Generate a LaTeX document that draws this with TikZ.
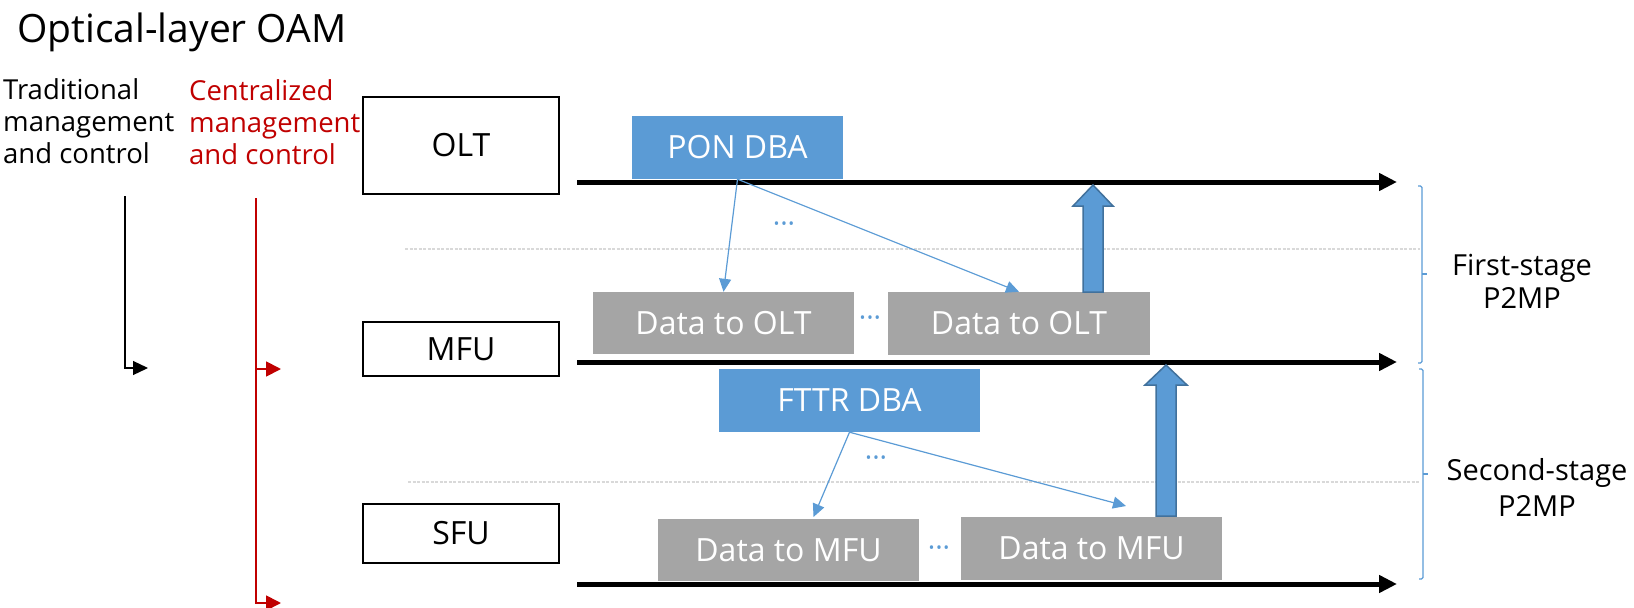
\documentclass[tikz,border=0pt]{standalone}
\usepackage{fontspec}
\setmainfont{Open Sans}
\usetikzlibrary{arrows.meta,calc}
\definecolor{dbablue}{HTML}{5B9BD5}
\definecolor{dbaedge}{HTML}{41719C}
\definecolor{datagray}{HTML}{A5A5A5}
\definecolor{cmred}{HTML}{C00000}
\definecolor{dashgray}{HTML}{D9D9D9}
\begin{document}
\begin{tikzpicture}[x=1pt,y=-1pt,
  titletext/.style={inner sep=0pt,font=\fontsize{39}{44}\selectfont},
  sidetext/.style={inner sep=0pt,align=left,font=\fontsize{27.5}{32}\selectfont},
  stagetext/.style={inner sep=0pt,align=center,font=\fontsize{29}{33}\selectfont},
  unitbox/.style={draw=black,line width=1.7pt,minimum width=196pt,inner sep=0pt,font=\fontsize{32}{38}\selectfont},
  dbabox/.style={fill=dbablue,text=white,inner sep=0pt,minimum height=63pt,font=\fontsize{32}{38}\selectfont},
  databox/.style={fill=datagray,text=white,inner sep=0pt,minimum height=62pt,minimum width=261pt,font=\fontsize{32}{38}\selectfont},
  busline/.style={line width=5pt,-{Triangle[length=18pt,width=17pt]}},
  dbaarrow/.style={draw=dbablue,line width=1.2pt,-{Triangle[length=13pt,width=12pt]}},
  blockarrow/.style={fill=dbablue,draw=dbaedge,line width=1.5pt,line join=miter},
  gridline/.style={draw=dashgray,line width=1.2pt,dash pattern=on 3pt off 1.5pt},
  bracket/.style={draw=dbablue,line width=1.2pt,rounded corners=1.5pt},
  dotsnode/.style={inner sep=0pt,text=dbablue,font=\fontsize{28}{28}\selectfont},
  tradarrow/.style={draw=black,line width=1.2pt,-{Triangle[length=15pt,width=14pt]}},
  cmarrow/.style={draw=cmred,line width=1.8pt,-{Triangle[length=15pt,width=15pt]}}
]
\useasboundingbox (0,0) rectangle (1634,608);

% title and side texts (base anchor = baseline of the last line)
\node[titletext,anchor=base west] (title) at (17,42) {Optical-layer OAM};
\node[sidetext,anchor=base west] (trad) at (3,163) {Traditional\\management\\and control};
\node[sidetext,anchor=base west,text=cmred] (cent) at (189,164.5) {Centralized\\management\\and control};

% management arrows
\coordinate (tradtop) at (125,196);
\coordinate (tradend) at (148,368);
\draw[tradarrow] (tradtop) |- (tradend);
\coordinate (cmtop) at (256,198);
\coordinate (cmmid) at (256,369);
\coordinate (cmmidend) at (281,369);
\coordinate (cmend) at (281,603);
\draw[cmarrow] (cmtop) |- (cmend);
\draw[cmarrow] (cmmid) -- (cmmidend);

% unit boxes
\node[unitbox,minimum height=97pt] (olt) at (461,145.5) {OLT};
\node[unitbox,minimum height=54pt] (mfu) at (461,349) {MFU};
\node[unitbox,minimum height=59pt] (sfu) at (461,533.5) {SFU};

% dashed grid lines
\coordinate (g1s) at (405,249); \coordinate (g1e) at (1420,249);
\coordinate (g2s) at (408,482); \coordinate (g2e) at (1420,482);
\draw[gridline] (g1s) -- (g1e);
\draw[gridline] (g2s) -- (g2e);

% DBA boxes
\node[dbabox,minimum width=211pt] (pon) at (737.5,147.5) {PON DBA};
\node[dbabox,minimum width=261pt] (fttr) at (849.5,400.5) {FTTR DBA};

% data boxes
\node[databox] (dol1) at (723.5,323) {Data to OLT};
\node[databox,minimum width=262pt,minimum height=63pt] (dol2) at (1019,323.5) {Data to OLT};
\node[databox] (dmf1) at (788.5,550) {Data to MFU};
\node[databox,minimum height=63pt] (dmf2) at (1091.5,548.5) {Data to MFU};

% bus lines
\coordinate (b1s) at (577,182); \coordinate (b1e) at (1397,182);
\coordinate (b2s) at (577,362); \coordinate (b2e) at (1397,362);
\coordinate (b3s) at (577,584); \coordinate (b3e) at (1397,584);
\draw[busline] (b1s) -- (b1e);
\draw[busline] (b2s) -- (b2e);
\draw[busline] (b3s) -- (b3e);

% DBA grant arrows
\draw[dbaarrow] (pon.south) -- (dol1.north);
\draw[dbaarrow] (pon.south) -- (dol2.north);
\coordinate (fa1) at (813.5,517);
\coordinate (fa2) at (1126,506);
\draw[dbaarrow] (fttr.south) -- (fa1);
\draw[dbaarrow] (fttr.south) -- (fa2);

% ellipsis marks
\node[dotsnode] (d1) at (784,228) {\textperiodcentered\textperiodcentered\textperiodcentered};
\node[dotsnode] (d2) at (870,322) {\textperiodcentered\textperiodcentered\textperiodcentered};
\node[dotsnode] (d3) at (876,462) {\textperiodcentered\textperiodcentered\textperiodcentered};
\node[dotsnode] (d4) at (939,552) {\textperiodcentered\textperiodcentered\textperiodcentered};

% block arrows (upstream data)
\coordinate (ua0) at (1093,292); \coordinate (ua1) at (1093,185);
\draw[blockarrow] ($(ua0)+(-10,0)$) -- ($(ua1)+(-10,21)$) -- ($(ua1)+(-20,21)$) -- (ua1)
  -- ($(ua1)+(20,21)$) -- ($(ua1)+(10,21)$) -- ($(ua0)+(10,0)$) -- cycle;
\coordinate (ub0) at (1166,516); \coordinate (ub1) at (1166,365);
\draw[blockarrow] ($(ub0)+(-10,0)$) -- ($(ub1)+(-10,20)$) -- ($(ub1)+(-21,20)$) -- (ub1)
  -- ($(ub1)+(21,20)$) -- ($(ub1)+(10,20)$) -- ($(ub0)+(10,0)$) -- cycle;

% brackets
\coordinate (br1t) at (1418,186); \coordinate (br1m) at (1427,274); \coordinate (br1b) at (1418,363);
\draw[bracket] (br1t) -| (1422,274) |- (br1b);
\draw[bracket] (1422,274) -- (br1m);
\coordinate (br2t) at (1419,369); \coordinate (br2m) at (1428,474); \coordinate (br2b) at (1419,579);
\draw[bracket] (br2t) -| (1423,474) |- (br2b);
\draw[bracket] (1423,474) -- (br2m);

\node[stagetext,anchor=base] (st1) at (1522,308) {First-stage\\P2MP};
\node[stagetext,anchor=base,font=\fontsize{29}{36}\selectfont] (st2) at (1537,516) {Second-stage\\P2MP};
\end{tikzpicture}
\end{document}
